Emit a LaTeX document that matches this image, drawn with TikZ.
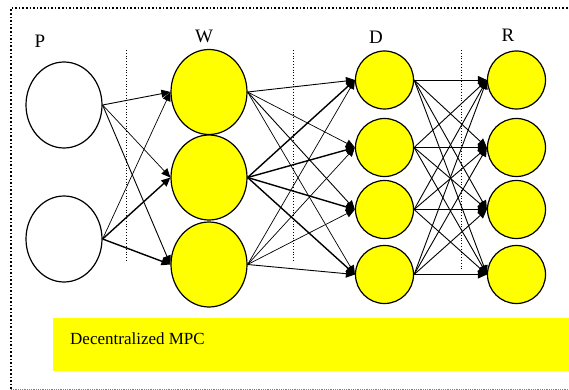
\documentclass[tikz,border=0pt]{standalone}
\usepackage{fontspec}
\setmainfont{Liberation Serif}
\usetikzlibrary{arrows.meta,shapes.geometric}
\definecolor{fillyellow}{RGB}{255,255,0}
\tikzset{
  bigcell/.style={ellipse,draw=black,line width=1.2pt,minimum width=76pt,minimum height=85pt,inner sep=0pt},
  ptcell/.style={bigcell,fill=white,minimum height=86pt},
  wcell/.style={bigcell,fill=fillyellow},
  smallcell/.style={ellipse,draw=black,line width=1.2pt,fill=fillyellow,minimum width=58pt,minimum height=58pt,inner sep=0pt},
  link/.style={-{Triangle[length=9pt,width=8pt]},line width=0.9pt},
  thin link/.style={link,line width=0.7pt},
  thick link/.style={link,line width=1.4pt},
  divider/.style={dotted,line width=0.8pt},
  layerlabel/.style={anchor=base,inner sep=0pt,font=\fontsize{19}{19}\selectfont},
}
\begin{document}
\begin{tikzpicture}[x=1pt,y=-1pt]
  \useasboundingbox (0,0) rectangle (569,390);

  % outer frame
  \draw[dotted,line width=1.6pt] (11,389) -- (11,8) -- (580,8);
  \draw[gray,densely dotted,line width=0.8pt] (11,389) -- (580,389);

  % layer dividers
  \draw[divider] (126,50) -- (126,262);
  \draw[divider] (293,50) -- (293,262);
  \draw[divider] (461,50) -- (461,270);

  % layer titles
  \node[layerlabel] (lp) at (40,48) {P};
  \node[layerlabel] (lw) at (204,43) {W};
  \node[layerlabel] (ld) at (376,44) {D};
  \node[layerlabel] (lr) at (508,42) {R};

  % P layer
  \node[ptcell] (p1) at (64,105) {};
  \node[ptcell] (p2) at (64,239) {};

  % W layer
  \node[wcell] (w1) at (209,92) {};
  \node[wcell] (w2) at (209,177.5) {};
  \node[wcell] (w3) at (209,264.5) {};

  % D layer
  \node[smallcell] (d1) at (384.5,80) {};
  \node[smallcell] (d2) at (384.5,147.5) {};
  \node[smallcell] (d3) at (384.5,209.5) {};
  \node[smallcell] (d4) at (384.5,274.5) {};

  % R layer
  \node[smallcell] (r1) at (516.5,80) {};
  \node[smallcell] (r2) at (516.5,147.5) {};
  \node[smallcell] (r3) at (516.5,209.5) {};
  \node[smallcell] (r4) at (516.5,274.5) {};

  % P -> W
  \draw[link] (p1.east) -- (w1.west);
  \draw[thin link] (p1.east) -- (w2.west);
  \draw[link] (p1.east) -- (w3.west);
  \draw[thin link] (p2.east) -- (w1.west);
  \draw[thick link] (p2.east) -- (w2.west);
  \draw[thick link] (p2.east) -- (w3.west);

  % W -> D
  \draw[link] (w1.east) -- (d1.west);
  \draw[thin link] (w1.east) -- (d2.west);
  \draw[link] (w1.east) -- (d3.west);
  \draw[thin link] (w1.east) -- (d4.west);
  \draw[thick link] (w2.east) -- (d1.west);
  \draw[thick link] (w2.east) -- (d2.west);
  \draw[thick link] (w2.east) -- (d3.west);
  \draw[thick link] (w2.east) -- (d4.west);
  \draw[thin link] (w3.east) -- (d1.west);
  \draw[thin link] (w3.east) -- (d2.west);
  \draw[thin link] (w3.east) -- (d3.west);
  \draw[link] (w3.east) -- (d4.west);

  % D -> R
  \foreach \s in {1,2,3,4}{
    \foreach \t in {1,2,3,4}{
      \draw[link] (d\s.east) -- (r\t.west);
    }
  }

  % caption bar
  \fill[fillyellow] (53,318) rectangle (580,371);
  \node[anchor=base west,inner sep=0pt,font=\fontsize{17}{17}\selectfont] (cap) at (70,344) {Decentralized MPC};
\end{tikzpicture}
\end{document}
